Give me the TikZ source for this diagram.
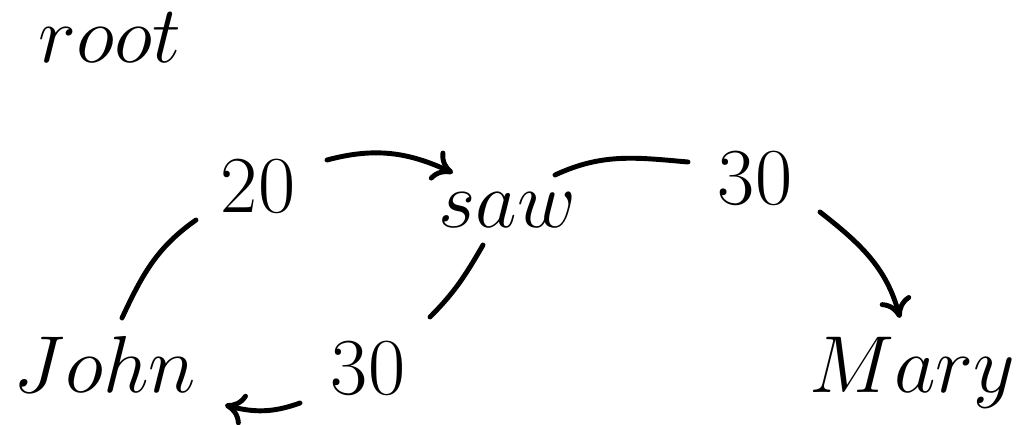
\RequirePackage{fix-cm}
\documentclass[tikz,border=0pt]{standalone}
\usetikzlibrary{arrows.meta,calc}
\begin{document}
\begin{tikzpicture}[x=0.02cm,y=-0.02cm,
  word/.style={anchor=base,inner sep=0pt,font=\fontsize{46}{55}\selectfont},
  link/.style={line width=2.8pt,line cap=round},
  arr/.style={link,-{To[length=4mm,width=6.5mm]}}]
\useasboundingbox[fill=white] (0,0) rectangle (1028,425);
\node[word] (root) at (110,63) {$root$};
\node[word] (n20) at (258,213) {20};
\node[word] (saw) at (507,228) {$saw$};
\node[word] (n30a) at (755,205) {30};
\node[word] (John) at (105,393) {$John$};
\node[word] (n30b) at (368,395) {30};
\node[word] (Mary) at (912,393) {$Mary$};
% John -> 20 -> saw
\draw[link] ($(John.base)+(17,-75)$) to[out=65,in=215] ($(n20.base)+(-62,7)$);
\draw[arr] ($(n20.base)+(69,-53)$) to[out=15,in=155] ($(saw.base)+(-54,-55)$);
% saw -> 30 -> Mary
\draw[link] ($(saw.base)+(48,-53)$) to[out=25,in=175] ($(n30a.base)+(-67,-43)$);
\draw[arr] ($(n30a.base)+(65,7)$) to[out=-38,in=105] ($(Mary.base)+(-12,-75)$);
% saw -> 30 -> John
\draw[link] ($(saw.base)+(-24,17)$) to[out=240,in=45] ($(n30b.base)+(62,-78)$);
\draw[arr] ($(n30b.base)+(-68,8)$) to[out=200,in=-15] ($(John.base)+(120,12)$);
\end{tikzpicture}
\end{document}
